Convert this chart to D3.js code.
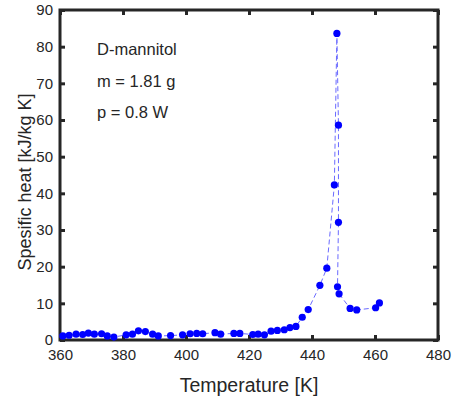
<!DOCTYPE html>
<html>
<head>
<meta charset="utf-8">
<script src="https://cdn.jsdelivr.net/npm/d3@7"></script>
<style>
  body { margin: 0; background: #fff; }
  text { font-family: "Liberation Sans", Arial, sans-serif; fill: #262626; }
</style>
</head>
<body>
<svg id="chart" width="453" height="404"></svg>
<script>
// measured points, temperature [K] / specific heat [kJ/kg K]
const temperature = [
  360.9, 362.9, 365.1, 367.2, 369.0, 370.9, 373.2, 375.0, 377.1, 381.0,
  383.0, 384.9, 387.1, 389.4, 391.2, 395.1, 398.9, 401.3, 403.4, 405.3,
  409.2, 411.0, 415.2, 417.1, 421.2, 422.9, 424.9, 427.0, 429.0, 431.2,
  433.0, 434.9, 436.9, 438.8, 442.5, 444.7, 447.1, 447.9, 448.4, 448.4,
  448.1, 448.6, 452.1, 454.2, 460.2, 461.4
]
const heat = [
  1.1, 1.3, 1.6, 1.5, 1.9, 1.6, 1.7, 1.1, 0.8, 1.4,
  1.6, 2.5, 2.3, 1.6, 1.1, 1.2, 1.4, 1.7, 1.8, 1.7,
  2.0, 1.6, 1.8, 1.8, 1.5, 1.6, 1.4, 2.4, 2.6, 2.8,
  3.4, 3.7, 6.2, 8.3, 14.9, 19.6, 42.3, 83.6, 58.6, 32.1,
  14.5, 12.6, 8.6, 8.2, 8.8, 10.1
]
const xTicks = [360, 380, 400, 420, 440, 460, 480]
const yTicks = [0, 10, 20, 30, 40, 50, 60, 70, 80, 90]
const notes = ['D-mannitol', 'm = 1.81 g', 'p = 0.8 W']

const points = temperature.map((t, i) => ({ t: t, v: heat[i] }))

const svg = d3.select('#chart')
const plotL = 60, plotR = 438, plotT = 10, plotB = 340

const x = d3.scaleLinear().domain([360, 480]).range([plotL, plotR])
const y = d3.scaleLinear().domain([0, 90]).range([plotB, plotT])

// axes with inward ticks
const tick = 5
svg.append('g')
  .attr('transform', `translate(0,${plotB})`)
  .call(d3.axisBottom(x).tickValues(xTicks).tickSizeInner(-tick).tickSizeOuter(0).tickPadding(tick + 4))
svg.append('g')
  .attr('transform', `translate(0,${plotT})`)
  .call(d3.axisTop(x).tickValues(xTicks).tickSizeInner(-tick).tickSizeOuter(0).tickFormat(''))
svg.append('g')
  .attr('transform', `translate(${plotL},0)`)
  .call(d3.axisLeft(y).tickValues(yTicks).tickSizeInner(-tick).tickSizeOuter(0).tickPadding(tick + 2))
svg.append('g')
  .attr('transform', `translate(${plotR},0)`)
  .call(d3.axisRight(y).tickValues(yTicks).tickSizeInner(-tick).tickSizeOuter(0).tickFormat(''))

svg.selectAll('.domain').remove()
svg.selectAll('.tick line').attr('stroke', '#262626').attr('stroke-width', 3)
svg.selectAll('.tick text').style('font-size', '15px').attr('fill', '#333')

svg.append('rect')
  .attr('x', plotL).attr('y', plotT)
  .attr('width', plotR - plotL).attr('height', plotB - plotT)
  .attr('fill', 'none')
  .attr('stroke', '#262626')
  .attr('stroke-width', 3)

// data
svg.append('path')
  .datum(points)
  .attr('fill', 'none')
  .attr('stroke', '#6a6aff')
  .attr('stroke-width', 1)
  .attr('stroke-dasharray', '5,3')
  .attr('d', d3.line().x(d => x(d.t)).y(d => y(d.v)))

svg.append('g')
  .selectAll('circle')
  .data(points)
  .enter()
  .append('circle')
    .attr('cx', d => x(d.t))
    .attr('cy', d => y(d.v))
    .attr('r', 3.6)
    .attr('fill', '#0000ff')

// labels
svg.selectAll('.note')
  .data(notes)
  .enter()
  .append('text')
    .attr('x', 97)
    .attr('y', (d, i) => 55 + i * 31.5)
    .style('font-size', '16.5px')
    .text(d => d)

svg.append('text')
  .attr('x', (plotL + plotR) / 2)
  .attr('y', 392)
  .attr('text-anchor', 'middle')
  .style('font-size', '19.5px')
  .text('Temperature [K]')

svg.append('text')
  .attr('transform', `translate(31,${182}) rotate(-90)`)
  .attr('text-anchor', 'middle')
  .style('font-size', '18px')
  .text('Spesific heat [kJ/kg K]')
</script>
</body>
</html>
